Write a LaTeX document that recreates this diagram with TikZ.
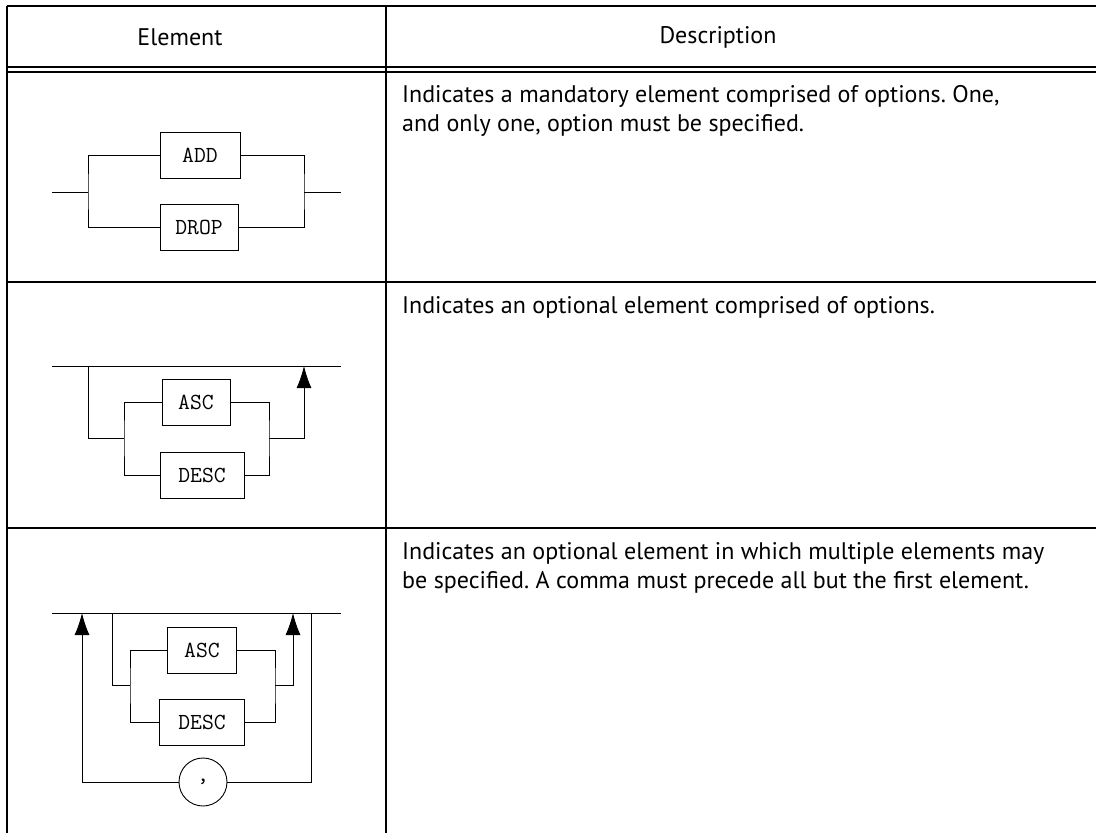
\documentclass[tikz,border=0pt]{standalone}
\usepackage{fontspec}
\setmainfont{PT Sans}
\usepackage{tikz}
\usetikzlibrary{arrows.meta}
\frenchspacing

\tikzset{
  rule/.style={line width=1.8pt},
  rail/.style={line width=0.9pt},
  kw/.style={draw, line width=0.9pt, minimum height=46pt, inner sep=0pt,
    font=\fontsize{23}{23}\selectfont\ttfamily},
  loop/.style={rail, -{Latex[length=22pt,width=15pt]}},
  desc/.style={anchor=north west, inner sep=0pt, align=left,
    font=\fontsize{24}{29}\selectfont},
}

\begin{document}
\begin{tikzpicture}[x=1pt, y=-1pt]
    \useasboundingbox (0,0) rectangle (1096,833);

    % table
    \draw[rule] (7,6) -- (1096,6);
    \draw[rule] (7,67) -- (1096,67);
    \draw[rule] (7,72) -- (1096,72);
    \draw[rule] (7,282) -- (1096,282);
    \draw[rule] (7,528) -- (1096,528);
    \draw[rule] (7,6) -- (7,833);
    \draw[rule] (386,6) -- (386,833);

    \node[font=\fontsize{24}{24}\selectfont] (hel) at (180,37) {Element};
    \node[font=\fontsize{24}{24}\selectfont] (hde) at (718,37) {Description};

    % mandatory choice
    \node[kw, minimum width=80pt] (add) at (200,155) {ADD};
    \node[kw, minimum width=78pt] (drop) at (199,227) {DROP};
    \coordinate (ain) at (52,192);
    \coordinate (al) at (88,192);
    \coordinate (ar) at (304,192);
    \coordinate (aout) at (341,192);
    \draw[rail] (ain) -- (al);
    \draw[rail] (add.west) -| (al) |- (drop.west);
    \draw[rail] (add.east) -| (ar) |- (drop.east);
    \draw[rail] (ar) -- (aout);

    \node[desc] (da) at (402,85.5) {Indicates a mandatory element comprised of options. One,\\
      and only one, option must be specified.};

    % optional choice
    \node[kw, minimum width=68pt] (asc) at (196,402) {ASC};
    \node[kw, minimum width=84pt] (dsc) at (202,475) {DESC};
    \coordinate (bin) at (52,366);
    \coordinate (bout) at (341,366);
    \coordinate (bt) at (88,366);
    \coordinate (bl) at (124,438);
    \coordinate (br) at (269,438);
    \coordinate (bu) at (304,366);
    \draw[rail] (bin) -- (bout);
    \draw[rail] (bt) |- (bl);
    \draw[rail] (asc.west) -| (bl) |- (dsc.west);
    \draw[rail] (asc.east) -| (br) |- (dsc.east);
    \draw[loop] (br) -| (bu);

    \node[desc] (db) at (402,296.5) {Indicates an optional element comprised of options.};

    % optional repeated choice
    \node[kw, minimum width=69pt] (asc2) at (202,650) {ASC};
    \node[kw, minimum width=85pt] (dsc2) at (202,722) {DESC};
    \node[draw, rail, circle, minimum size=48pt, inner sep=0pt,
      font=\fontsize{23}{23}\selectfont\ttfamily] (com) at (203,782) {,};
    \coordinate (cin) at (52,613);
    \coordinate (cout) at (341,613);
    \coordinate (cret) at (82,613);
    \coordinate (ct) at (112,613);
    \coordinate (cl) at (130,685);
    \coordinate (cr) at (275,685);
    \coordinate (cu) at (293,613);
    \coordinate (cback) at (311,613);
    \draw[rail] (cin) -- (cout);
    \draw[rail] (cback) |- (com.east);
    \draw[loop] (com.west) -| (cret);
    \draw[rail] (ct) |- (cl);
    \draw[rail] (asc2.west) -| (cl) |- (dsc2.west);
    \draw[rail] (asc2.east) -| (cr) |- (dsc2.east);
    \draw[loop] (cr) -| (cu);

    \node[desc] (dc) at (402,542.5) {Indicates an optional element in which multiple elements may\\
      be specified. A comma must precede all but the first element.};
\end{tikzpicture}
\end{document}
